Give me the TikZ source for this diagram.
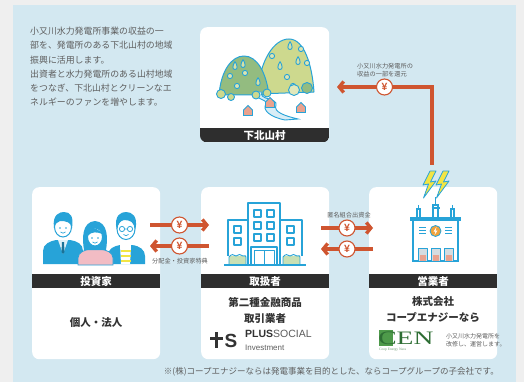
\documentclass[tikz,border=0pt]{standalone}
\usepackage{fontspec}
\setmainfont{Liberation Sans}
\newfontfamily\jp{Noto Sans CJK JP}
\newfontfamily\serifen{Liberation Serif}
\usetikzlibrary{arrows.meta,calc}

\definecolor{outerbg}{HTML}{EFEFEF}
\definecolor{panel}{HTML}{D3E8F1}
\definecolor{band}{HTML}{2E2E2E}
\definecolor{flowc}{HTML}{CF5530}
\definecolor{ink}{HTML}{5E5E5E}
\definecolor{dark}{HTML}{333333}
\definecolor{icon}{HTML}{27A3D8}
\definecolor{hillA}{HTML}{93BC80}
\definecolor{hillB}{HTML}{CDD98E}
\definecolor{housec}{HTML}{E9A28E}
\definecolor{river}{HTML}{D8EDF6}
\definecolor{pinkc}{HTML}{F2BCC4}
\definecolor{boltc}{HTML}{F2E544}
\definecolor{orangec}{HTML}{F2A23A}
\definecolor{shrub}{HTML}{C9E0B4}
\definecolor{doorc}{HTML}{D5DCE0}
\definecolor{cengreen}{HTML}{2E6E34}
\definecolor{cenlight}{HTML}{4E9A4A}

\tikzset{
  card/.style={fill=white, draw=none, rounded corners=7pt, inner sep=0pt, anchor=north west},
  bandbox/.style={fill=band, text=white, inner sep=0pt, minimum height=14pt, anchor=north west,
    font=\jp\bfseries\fontsize{10.5}{12}\selectfont},
  bandtext/.style={text=white, inner sep=0pt, font=\jp\bfseries\fontsize{10.5}{12}\selectfont},
  flow/.style={draw=flowc, line width=3.4pt, -{Straight Barb[length=4.5pt,width=11pt]}},
  yen/.style={circle, draw=flowc, line width=1.1pt, fill=white, text=flowc, minimum size=16pt,
    inner sep=0pt, font=\bfseries\fontsize{10.5}{10}\selectfont},
  small/.style={text=ink, inner sep=0pt, font=\jp\fontsize{6.2}{7.6}\selectfont},
  cardtext/.style={text=dark, inner sep=0pt, align=center, font=\jp\bfseries\fontsize{10.5}{16}\selectfont},
  iconline/.style={draw=icon, line width=1.3pt, line join=round},
}

\begin{document}
\begin{tikzpicture}[x=1pt,y=-1pt]
% background and panel
\fill[outerbg] (0,0) rectangle (524,382);
\fill[panel] (13,5) rectangle (516,382);
\useasboundingbox (0,0) rectangle (524,382);

% intro text
\node[text=ink, inner sep=0pt, anchor=north west, align=left,
      font=\jp\fontsize{8.9}{14.2}\selectfont] (intro) at (30,27)
  {小又川水力発電所事業の収益の一\\部を、発電所のある下北山村の地域\\振興に活用します。\\出資者と水力発電所のある山村地域\\をつなぎ、下北山村とクリーンなエ\\ネルギーのファンを増やします。};

% cards
\node[card, minimum width=129pt, minimum height=115pt] (vil) at (200,27) {};
\node[card, minimum width=128pt, minimum height=172pt] (inv) at (32,187) {};
\node[card, minimum width=128pt, minimum height=172pt] (hdl) at (201,187) {};
\node[card, minimum width=128pt, minimum height=172pt] (opr) at (369,187) {};

% village band (rounded bottom)
\begin{scope}
  \clip[rounded corners=7pt] (vil.north west) rectangle (vil.south east);
  \fill[band] ($(vil.south west)+(0,-14)$) rectangle (vil.south east);
\end{scope}
\node[bandtext] (vilband) at ($(vil.south)+(0,-7)$) {下北山村};

% bands of the lower cards
\node[bandbox, minimum width=128pt] (invband) at (32,274) {投資家};
\node[bandbox, minimum width=128pt] (hdlband) at (201,274) {取扱者};
\node[bandbox, minimum width=128pt] (oprband) at (369,274) {営業者};

% card texts
\node[cardtext] (invtxt) at (96,323) {個人・法人};
\node[cardtext] (hdltxt) at (265,310) {第二種金融商品\\取引業者};
\node[cardtext] (oprtxt) at (433,310) {株式会社\\コープエナジーなら};

% ---------- village landscape ----------
\filldraw[fill=hillB, iconline, line width=1pt] (257,94) .. controls (260,60) and (274,39) .. (289,39)
   .. controls (304,39) and (312,64) .. (314,92) -- cycle;
\filldraw[fill=hillA, iconline, line width=1pt] (219,95) .. controls (221,70) and (232,56) .. (244,56)
   .. controls (257,56) and (266,72) .. (269,95) -- cycle;
% dots and drops on the hills
\foreach \p in {(272,56),(301,49),(307,63),(287,77),(293,86),(237,86),(245,73),(230,76)}
  \filldraw[fill=white!30!hillB, draw=icon, line width=0.9pt] \p circle (2.6);
\foreach \x/\y in {290/46,280/66,298/61,235/66,243/64,258/82}
  \filldraw[fill=white!20!hillB, draw=icon, line width=0.9pt]
    (\x,\y-4.5) .. controls (\x+2.8,\y) and (\x+2.8,\y+3.5) .. (\x,\y+3.5) .. controls (\x-2.8,\y+3.5) and (\x-2.8,\y) .. (\x,\y-4.5);
% river
\filldraw[fill=river, draw=icon, line width=0.9pt] (262,92) .. controls (258,100) and (278,98) .. (276,105)
   .. controls (273,112) and (285,116) .. (298,119) -- (285,120)
   .. controls (270,117) and (262,110) .. (266,104) .. controls (268,99) and (252,99) .. (256,92) -- cycle;
% shrubs at the foot of the hills
\foreach \x/\y/\r/\c in {221/94/4.5/hillB,231/97/3.5/hillB,256/95/4/hillB,267/93/4/hillB,294/90/5.5/white!40!hillB,307/88/5.5/hillA}
  \filldraw[fill=\c, draw=icon, line width=0.9pt] (\x,\y) circle (\r);
% houses
\foreach \x/\y in {248/111,270/103,301/108}
  \filldraw[fill=housec, draw=icon, line width=0.8pt]
    (\x-4.5,\y+4.5) -- (\x-4.5,\y-1) -- (\x,\y-5.5) -- (\x+4.5,\y-1) -- (\x+4.5,\y+4.5) -- cycle;

% ---------- investors (people) ----------
% left man
\fill[icon] (43,264) -- (43,251) .. controls (43,244) and (50,241) .. (56,240) -- (70,240)
   .. controls (77,241) and (83,244) .. (83,251) -- (83,264) -- cycle;
\fill[white!85!icon] (58,240) -- (63,254) -- (68,240) -- cycle;
\fill[icon!70!black] (62,242) -- (64,242) -- (64.5,252) -- (63,254) -- (61.5,252) -- cycle;
\filldraw[fill=white, draw=icon, line width=1pt] (63,227) ellipse (8.5 and 10);
\fill[icon] (54,228) .. controls (52,214) and (60,212) .. (64,212) .. controls (70,212) and (74,216) .. (72,228)
   .. controls (71,222) and (66,221) .. (60,221) .. controls (57,222) and (55,224) .. (54,228) -- cycle;
\fill[icon] (60,228) circle (0.8) (66,228) circle (0.8);
\draw[icon, line width=0.7pt] (60.5,232) .. controls (62,233.5) and (64,233.5) .. (65.5,232);
% right man
\fill[icon] (108,264) -- (108,255) .. controls (108,249) and (114,246) .. (120,245) -- (132,245)
   .. controls (140,246) and (145,250) .. (145,256) -- (145,264) -- cycle;
\fill[white] (120,245) -- (131,245) -- (130,264) -- (121,264) -- cycle;
\foreach \y in {250,255,260} \fill[boltc] (120.5,\y) rectangle (130.5,\y+2);
\filldraw[fill=white, draw=icon, line width=1pt] (126,229) ellipse (9 and 10.5);
\fill[icon] (116.5,229) .. controls (114,215) and (121,212) .. (126,212) .. controls (132,212) and (138,216) .. (135.5,229)
   .. controls (134,222) and (130,220) .. (124,220) .. controls (120,221) and (118,224) .. (116.5,229) -- cycle;
\draw[icon, line width=0.8pt] (122,229) circle (2.6) (130,229) circle (2.6) (124.6,229) -- (127.4,229);
\draw[icon, line width=0.7pt] (123.5,234.5) .. controls (125,236) and (127,236) .. (128.5,234.5);
% woman (in front)
\filldraw[fill=pinkc, draw=icon, line width=0.8pt] (78,265) -- (78,258) .. controls (78,252) and (85,250) .. (90,249)
   -- (100,249) .. controls (106,250) and (113,252) .. (113,258) -- (113,265) -- cycle;
\fill[icon] (84,250) .. controls (82,238) and (82,222) .. (95,221) .. controls (108,222) and (108,238) .. (106,250)
   -- (100,250) -- (90,250) -- cycle;
\filldraw[fill=white, draw=icon, line width=1pt] (95,237) ellipse (7.5 and 9);
\fill[icon] (87.5,236) .. controls (88,226) and (96,226) .. (102.5,234) .. controls (97,232) and (92,231) .. (87.5,236) -- cycle;
\fill[icon] (92,238) circle (0.8) (98,238) circle (0.8);
\draw[icon, line width=0.7pt] (92.5,242) .. controls (94,243.5) and (96,243.5) .. (97.5,242);

% ---------- handler (building) ----------
\fill[shrub] (229,256) rectangle (246,265);
\fill[shrub] (283,256) rectangle (300,265);
\draw[iconline, line width=0.9pt] (229,265) -- (229,257) .. controls (231,254) and (234,254) .. (236,256)
   .. controls (238,254) and (241,254) .. (243,256) .. controls (245,255) and (246,256) .. (246,257) -- (246,265);
\draw[iconline, line width=0.9pt] (283,265) -- (283,257) .. controls (285,254) and (288,254) .. (290,256)
   .. controls (292,254) and (295,254) .. (297,256) .. controls (299,255) and (300,256) .. (300,257) -- (300,265);
\draw[iconline] (248,265) -- (248,203) -- (280,203) -- (280,265);
\draw[iconline] (248,220) -- (228,220) -- (228,256);
\draw[iconline] (280,220) -- (302,220) -- (302,256);
\draw[iconline] (224,265) -- (306,265);
\foreach \x in {254,267} \foreach \y in {210,222,234}
  \draw[iconline, line width=1.1pt] (\x,\y) rectangle +(7,7);
\foreach \x in {234,287} \foreach \y in {226,238}
  \draw[iconline, line width=1.1pt] (\x,\y) rectangle +(7,7);
\draw[iconline] (251,265) -- (251,247) -- (277,247) -- (277,265);
\draw[iconline, line width=1pt] (254,265) -- (254,250) -- (274,250) -- (274,265) (264,250) -- (264,265);

% ---------- operator (power station) ----------
\foreach \s in {0,13}
  \filldraw[fill=boltc, draw=icon, line width=0.8pt, line join=round]
    ($(430,171)+(\s,0)$) -- ++(-7,14) -- ++(5.5,-1) -- ++(-5,14) -- ++(12.5,-17) -- ++(-5.5,1) -- ++(5.5,-11) -- cycle;
\draw[iconline, line width=1.1pt] (435.5,197) -- (435.5,205);
\filldraw[fill=white, draw=icon, line width=1.1pt] (433,205) rectangle (438,218);
\draw[iconline, line width=1.1pt] (431.5,208) -- (439.5,208);
\filldraw[fill=white, draw=icon, line width=1.1pt] (417,209) rectangle (420,218);
\draw[iconline, line width=1.1pt] (418.5,205) -- (418.5,209);
\filldraw[fill=white, draw=icon, line width=1.1pt] (451,209) rectangle (454,218);
\draw[iconline, line width=1.1pt] (452.5,205) -- (452.5,209);
\filldraw[fill=white, draw=icon, line width=1.3pt] (413,220) rectangle (458,261);
\fill[icon] (410,217) rectangle (461,221);
\foreach \y in {227,230,233} {
  \draw[iconline, line width=1pt] (419,\y) -- (426,\y);
  \draw[iconline, line width=1pt] (445,\y) -- (452,\y);
}
\filldraw[fill=orangec, draw=icon, line width=0.8pt] (435.5,231) circle (5.5);
\fill[white] (436.5,227) -- (433.5,231.5) -- (435.5,231.5) -- (434.5,235) -- (437.5,230.5) -- (435.5,230.5) -- cycle;
\foreach \x in {418,431,444} {
  \fill[doorc] (\x,248) rectangle (\x+9,261);
  \fill[housec] (\x+1.5,255) rectangle (\x+7.5,261);
  \draw[iconline, line width=1pt] (\x,261) -- (\x,248) -- (\x+9,248) -- (\x+9,261);
}

% ---------- money flows ----------
\coordinate (i1) at (150,225); \coordinate (h1) at (209,225);
\coordinate (h2) at (209,246); \coordinate (i2) at (150,246);
\draw[flow] (i1) -- node[yen] (y1) {¥} (h1);
\draw[flow] (h2) -- node[yen] (y2) {¥} (i2);
\node[small, anchor=north] (divlbl) at (180,258) {分配金・投資家特典};

\coordinate (h3) at (321,228); \coordinate (o3) at (373,228);
\coordinate (o4) at (373,249); \coordinate (h4) at (321,249);
\draw[flow] (h3) -- node[yen] (y3) {¥} (o3);
\draw[flow] (o4) -- node[yen] (y4) {¥} (h4);
\node[small, anchor=south] (invlbl) at (349,218) {匿名組合出資金};

\coordinate (r0) at (432,165); \coordinate (rc) at (432,87); \coordinate (r1) at (337,87);
\draw[flow] (r0) -- (rc) -- node[yen, pos=0.5] (y5) {¥} (r1);
\node[small, anchor=south west, align=left] (retlbl) at (357,77) {小又川水力発電所の\\収益の一部を還元};

% ---------- logos ----------
% PLUS SOCIAL
\fill[dark] (210,337) rectangle (223,340);
\fill[dark] (215,332) rectangle (218,348);
\node[text=dark, inner sep=0pt, font=\bfseries\fontsize{19}{19}\selectfont] (slogo) at (231,340.5) {S};
\node[inner sep=0pt, anchor=west, font=\fontsize{10.5}{10}\selectfont] (plus) at (245,334)
  {\textcolor{dark}{\textbf{PLUS}}\textcolor{dark!80}{SOCIAL}};
\node[inner sep=0pt, anchor=west, text=ink, font=\fontsize{8}{8}\selectfont] (invest) at (245,347.5) {Investment};
% CEN
\fill[cenlight] (379,330) rectangle (393,346);
\node[inner sep=0pt, anchor=west, text=cengreen, xscale=1.45,
      font=\serifen\fontsize{19}{19}\selectfont] (cen) at (378,338.5) {CEN};
\node[inner sep=0pt, anchor=north west, text=cengreen!70, font=\serifen\fontsize{3.6}{4}\selectfont] (cenname) at (379,347.5) {Coop Energy Nara};
\node[small, anchor=west, align=left, font=\jp\fontsize{6}{8.5}\selectfont] (centxt) at (446,340) {小又川水力発電所を\\改修し、運営します。};

% footnote
\node[text=ink, inner sep=0pt, anchor=east, font=\jp\fontsize{8.5}{9}\selectfont] (note) at (499,372)
  {※(株)コープエナジーならは発電事業を目的とした、ならコープグループの子会社です。};
\end{tikzpicture}
\end{document}
